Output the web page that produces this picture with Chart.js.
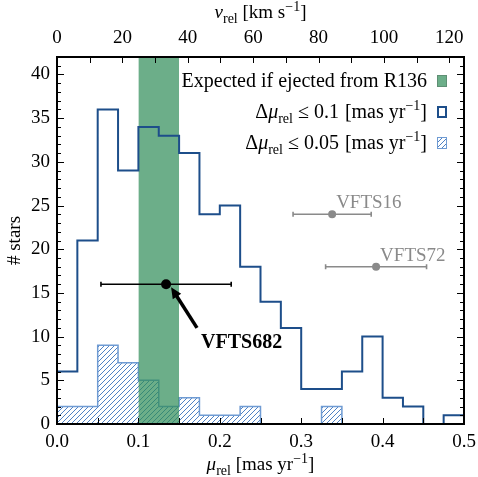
<!DOCTYPE html>
<html>
<head>
<meta charset="utf-8">
<script src="https://cdn.jsdelivr.net/npm/chart.js@4"></script>
<style>
  html, body { margin: 0; padding: 0; background: #fff; }
  #wrap { width: 478px; height: 477px; }
</style>
</head>
<body>
<div id="wrap"><canvas id="histChart" width="478" height="477"></canvas></div>
<script>
// data
const binWidth = 0.025;
const binEdges = [0, 0.025, 0.05, 0.075, 0.1, 0.125, 0.15, 0.175, 0.2, 0.225,
                  0.25, 0.275, 0.3, 0.325, 0.35, 0.375, 0.4, 0.425, 0.45, 0.475];
const countsAll  = [6, 21, 36, 29, 34, 33, 31, 24, 25, 18, 14, 11, 4, 4, 6, 10, 3, 2, 0, 1];
const countsGood = [2, 2, 9, 7, 5, 2, 3, 1, 1, 2, 0, 0, 0, 2, 0, 0, 0, 0, 0, 0];
const r136Band = [0.10, 0.15];
const starNames = ['VFTS682', 'VFTS16', 'VFTS72'];
const starMu    = [0.134, 0.338, 0.392];
const starMuErr = [0.080, 0.048, 0.062];
const starCount = [16, 24, 18];
const muTicks = [0, 0.1, 0.2, 0.3, 0.4, 0.5];
const vTicks  = [0, 20, 40, 60, 80, 100, 120];
const yTicks  = [0, 5, 10, 15, 20, 25, 30, 35, 40];
const muMax = 0.5, yMax = 42, vMax = 124.5;

const FONT = "'Liberation Serif', 'DejaVu Serif', serif";
const darkBlue = '#1d4e8a';
const hatchBlue = '#4f82c4';
const hatchEdge = '#6f9bd3';
const bandColor = 'rgba(46, 139, 87, 0.7)';
const grey = '#8a8a8a';

// hatch pattern "////"
function makeHatch() {
    const s = 5;
    const c = document.createElement('canvas');
    c.width = s; c.height = s;
    const g = c.getContext('2d');
    g.strokeStyle = hatchBlue;
    g.lineWidth = 1;
    g.beginPath();
    g.moveTo(-1, 1); g.lineTo(1, -1);
    g.moveTo(0, s); g.lineTo(s, 0);
    g.moveTo(s - 1, s + 1); g.lineTo(s + 1, s - 1);
    g.stroke();
    return g.createPattern(c, 'repeat');
}
const hatch = makeHatch();

// stepped outline points from bin edges
function stepPoints(counts) {
    const pts = [{x: binEdges[0], y: 0}];
    counts.forEach((c, i) => pts.push({x: binEdges[i], y: c}));
    pts.push({x: binEdges[binEdges.length - 1] + binWidth, y: counts[counts.length - 1]});
    pts.push({x: binEdges[binEdges.length - 1] + binWidth, y: 0});
    return pts;
}

// text with italic / sub / superscript pieces
function fontFor(p, size) {
    const sz = (p.sub || p.sup) ? Math.round(size * 0.72) : size;
    return (p.i ? 'italic ' : '') + (p.b ? 'bold ' : '') + sz + 'px ' + FONT;
}
function textWidth(ctx, parts, size) {
    let w = 0;
    parts.forEach(p => { ctx.font = fontFor(p, size); w += ctx.measureText(p.t).width; });
    return w;
}
function richText(ctx, parts, x, y, align, size, color) {
    const w = textWidth(ctx, parts, size);
    let cx = align === 'right' ? x - w : (align === 'center' ? x - w / 2 : x);
    ctx.fillStyle = color || '#000';
    ctx.textBaseline = 'alphabetic';
    ctx.textAlign = 'left';
    parts.forEach(p => {
        ctx.font = fontFor(p, size);
        let dy = p.sub ? size * 0.25 : (p.sup ? -size * 0.38 : 0);
        ctx.fillText(p.t, cx, y + dy);
        cx += ctx.measureText(p.t).width;
    });
    return cx;
}

const decorPlugin = {
    id: 'decor',
    afterDatasetsDraw(chart) {
        const ctx = chart.ctx, xs = chart.scales.x, ys = chart.scales.y;
        ctx.save();
        starMu.forEach((m, i) => {
            const y = ys.getPixelForValue(starCount[i]);
            const x0 = xs.getPixelForValue(m - starMuErr[i]);
            const x1 = xs.getPixelForValue(m + starMuErr[i]);
            ctx.strokeStyle = i === 0 ? '#000' : grey;
            ctx.lineWidth = 1.6;
            ctx.beginPath();
            ctx.moveTo(x0, y); ctx.lineTo(x1, y);
            ctx.moveTo(x0, y - 2.5); ctx.lineTo(x0, y + 2.5);
            ctx.moveTo(x1, y - 2.5); ctx.lineTo(x1, y + 2.5);
            ctx.stroke();
        });
        ctx.restore();
    },
    afterDraw(chart) {
        const ctx = chart.ctx, a = chart.chartArea;
        const xs = chart.scales.x, ys = chart.scales.y, xt = chart.scales.x2;
        ctx.save();

        // star labels
        ctx.font = '19px ' + FONT;
        ctx.fillStyle = grey;
        ctx.textAlign = 'left';
        ctx.textBaseline = 'alphabetic';
        for (let i = 1; i < starNames.length; i++) {
            ctx.fillText(starNames[i], xs.getPixelForValue(starMu[i]) + 4, ys.getPixelForValue(starCount[i]) - 6);
        }

        // VFTS682 annotation with arrow
        const tipX = xs.getPixelForValue(starMu[0]) + 5, tipY = ys.getPixelForValue(starCount[0]) + 3;
        const tailX = xs.getPixelForValue(0.172), tailY = ys.getPixelForValue(11);
        const ang = Math.atan2(tipY - tailY, tipX - tailX);
        ctx.strokeStyle = '#000';
        ctx.fillStyle = '#000';
        ctx.lineWidth = 3.5;
        ctx.beginPath();
        ctx.moveTo(tailX, tailY);
        ctx.lineTo(tipX - 8 * Math.cos(ang), tipY - 8 * Math.sin(ang));
        ctx.stroke();
        ctx.beginPath();
        ctx.moveTo(tipX, tipY);
        ctx.lineTo(tipX - 11 * Math.cos(ang) + 5 * Math.sin(ang), tipY - 11 * Math.sin(ang) - 5 * Math.cos(ang));
        ctx.lineTo(tipX - 11 * Math.cos(ang) - 5 * Math.sin(ang), tipY - 11 * Math.sin(ang) + 5 * Math.cos(ang));
        ctx.closePath();
        ctx.fill();
        ctx.font = 'bold 20px ' + FONT;
        ctx.fillText(starNames[0], tailX + 4, tailY + 20);

        // frame
        ctx.strokeStyle = '#000';
        ctx.lineWidth = 2;
        ctx.strokeRect(a.left, a.top, a.right - a.left, a.bottom - a.top);

        // inward ticks
        ctx.lineWidth = 1;
        ctx.beginPath();
        for (let v = 0; v <= yMax + 1e-9; v += 1) {
            const y = Math.round(ys.getPixelForValue(v)) + 0.5;
            const len = v % 5 === 0 ? 7 : 4;
            ctx.moveTo(a.left, y); ctx.lineTo(a.left + len, y);
            ctx.moveTo(a.right, y); ctx.lineTo(a.right - len, y);
        }
        for (let k = 1; k < 10; k++) {
            const x = Math.round(xs.getPixelForValue(k * 0.05)) + 0.5;
            ctx.moveTo(x, a.bottom); ctx.lineTo(x, a.bottom - 6);
        }
        for (let v = 10; v < vMax; v += 10) {
            const x = Math.round(xt.getPixelForValue(v)) + 0.5;
            ctx.moveTo(x, a.top); ctx.lineTo(x, a.top + 6);
        }
        ctx.stroke();

        // axis titles
        const midX = (a.left + a.right) / 2;
        richText(ctx, [{t: 'μ', i: true}, {t: 'rel', sub: true}, {t: ' [mas yr'}, {t: '−1', sup: true}, {t: ']'}],
                 midX, 470, 'center', 19);
        richText(ctx, [{t: 'v', i: true}, {t: 'rel', sub: true}, {t: ' [km s'}, {t: '−1', sup: true}, {t: ']'}],
                 midX, 18, 'center', 19);
        ctx.save();
        ctx.translate(20, (a.top + a.bottom) / 2);
        ctx.rotate(-Math.PI / 2);
        richText(ctx, [{t: '# stars'}], 0, 0, 'center', 19);
        ctx.restore();

        // legend
        const lx = 427, mx = 437, ls = 20;
        const rows = [81, 112, 143];
        richText(ctx, [{t: 'Expected if ejected from R136'}], lx, rows[0] + 6, 'right', ls);
        const unit = [{t: '[mas yr'}, {t: '−1', sup: true}, {t: ']'}];
        const unitX = lx - textWidth(ctx, unit, ls);
        richText(ctx, unit, lx, rows[1] + 6, 'right', ls);
        richText(ctx, unit, lx, rows[2] + 6, 'right', ls);
        const lead3 = [{t: 'Δ'}, {t: 'μ', i: true}, {t: 'rel', sub: true}, {t: ' ≤ 0.05'}];
        const lead2 = [{t: 'Δ'}, {t: 'μ', i: true}, {t: 'rel', sub: true}, {t: ' ≤ 0.1'}];
        const start3 = unitX - 6 - textWidth(ctx, lead3, ls);
        richText(ctx, lead3, start3, rows[2] + 6, 'left', ls);
        richText(ctx, lead2, start3 + 10, rows[1] + 6, 'left', ls);

        ctx.fillStyle = bandColor;
        ctx.fillRect(mx, rows[0] - 6, 10, 12);
        ctx.strokeStyle = '#5f8f74';
        ctx.lineWidth = 1;
        ctx.strokeRect(mx + 0.5, rows[0] - 5.5, 9, 11);
        ctx.strokeStyle = darkBlue;
        ctx.lineWidth = 2;
        ctx.strokeRect(mx + 1, rows[1] - 5, 8, 10);
        ctx.fillStyle = hatch;
        ctx.fillRect(mx, rows[2] - 6, 10, 12);
        ctx.strokeStyle = hatchEdge;
        ctx.lineWidth = 1;
        ctx.strokeRect(mx + 0.5, rows[2] - 5.5, 9, 11);

        ctx.restore();
    }
};

const tickFont = { family: FONT, size: 19 };
const noPad = s => { s.paddingLeft = 0; s.paddingRight = 0; s.paddingTop = 0; s.paddingBottom = 0; };

new Chart(document.getElementById('histChart'), {
    type: 'line',
    data: {
        datasets: [
            {
                type: 'scatter',
                label: 'stars',
                data: starMu.map((m, i) => ({x: m, y: starCount[i]})),
                pointRadius: [5, 4, 4],
                pointBackgroundColor: ['#000', grey, grey],
                pointBorderWidth: 0,
                order: 0
            },
            {
                label: 'dmu <= 0.1',
                data: stepPoints(countsAll),
                stepped: true,
                borderColor: darkBlue,
                borderWidth: 2,
                pointRadius: 0,
                fill: false,
                order: 1
            },
            {
                label: 'Expected if ejected from R136',
                data: [{x: r136Band[0], y: yMax}, {x: r136Band[1], y: yMax}],
                borderWidth: 0,
                pointRadius: 0,
                backgroundColor: bandColor,
                fill: 'origin',
                order: 2
            },
            {
                label: 'dmu <= 0.05',
                data: stepPoints(countsGood),
                stepped: true,
                borderColor: hatchEdge,
                borderWidth: 1.5,
                backgroundColor: hatch,
                pointRadius: 0,
                fill: 'origin',
                order: 3
            }
        ]
    },
    options: {
        responsive: false,
        animation: false,
        layout: { padding: { left: 0, right: 14, top: 0, bottom: 0 } },
        plugins: { legend: { display: false }, tooltip: { enabled: false } },
        scales: {
            x: {
                type: 'linear', position: 'bottom', min: 0, max: muMax,
                grid: { display: false, drawTicks: false }, border: { display: false },
                ticks: { font: tickFont, color: '#000', padding: 7,
                         maxRotation: 0, autoSkip: false, callback: v => v.toFixed(1) },
                afterBuildTicks: s => { s.ticks = muTicks.map(v => ({value: v})); },
                afterFit: s => { s.height = 53; noPad(s); }
            },
            x2: {
                type: 'linear', position: 'top', min: 0, max: vMax,
                grid: { display: false, drawTicks: false }, border: { display: false },
                ticks: { font: tickFont, color: '#000', padding: 8, maxRotation: 0, autoSkip: false },
                afterBuildTicks: s => { s.ticks = vTicks.map(v => ({value: v})); },
                afterFit: s => { s.height = 57; noPad(s); }
            },
            y: {
                type: 'linear', min: 0, max: yMax,
                grid: { display: false, drawTicks: false }, border: { display: false },
                ticks: { font: tickFont, color: '#000', padding: 7, autoSkip: false },
                afterBuildTicks: s => { s.ticks = yTicks.map(v => ({value: v})); },
                afterFit: s => { s.width = 57; noPad(s); }
            }
        }
    },
    plugins: [decorPlugin]
});
</script>
</body>
</html>
